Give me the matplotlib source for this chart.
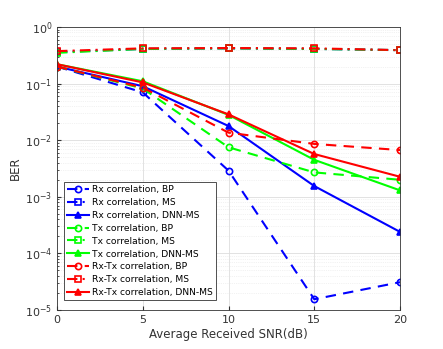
import numpy as np
import matplotlib.pyplot as plt

# SNR points (dB)
snr = [0, 5, 10, 15, 20]

# BER values
rx_bp = [0.20, 0.070, 0.0029, 1.55e-5, 3.1e-5]
rx_ms = [0.36, 0.41, 0.42, 0.41, 0.39]
rx_dnn = [0.20, 0.090, 0.0178, 0.00155, 2.4e-4]
tx_bp = [0.20, 0.082, 0.0075, 0.0027, 0.0020]
tx_ms = [0.35, 0.41, 0.42, 0.41, 0.39]
tx_dnn = [0.22, 0.110, 0.028, 0.0045, 0.0013]
rxtx_bp = [0.20, 0.085, 0.0136, 0.0086, 0.0067]
rxtx_ms = [0.375, 0.42, 0.425, 0.42, 0.39]
rxtx_dnn = [0.22, 0.105, 0.0286, 0.0057, 0.00226]

labels = ['Rx correlation, BP', 'Rx correlation, MS', 'Rx correlation, DNN-MS',
          'Tx correlation, BP', 'Tx correlation, MS', 'Tx correlation, DNN-MS',
          'Rx-Tx correlation, BP', 'Rx-Tx correlation, MS', 'Rx-Tx correlation, DNN-MS']
series = [rx_bp, rx_ms, rx_dnn, tx_bp, tx_ms, tx_dnn, rxtx_bp, rxtx_ms, rxtx_dnn]
colors = ['#0000ff'] * 3 + ['#00ff00'] * 3 + ['#ff0000'] * 3
# matlab-like dash patterns
styles = [((0, (5, 3.5)), 'o'), ((0, (5, 2.5, 1, 2.5)), 's'), ('-', '^')] * 3

fig = plt.figure(figsize=(4.43, 3.49), dpi=100)
ax = fig.add_axes([0.1287, 0.1117, 0.7743, 0.8109])

for y, lab, c, (ls, mk) in zip(series, labels, colors, styles):
    filled = mk == '^'
    ax.semilogy(snr, y, linestyle=ls, marker=mk, color=c, linewidth=1.5,
                markersize=4.5 if mk != 's' else 4,
                markerfacecolor=c if filled else 'none',
                markeredgewidth=1.2, label=lab)

ax.set_xlim(0, 20)
ax.set_ylim(1e-5, 1)
ax.set_xticks([0, 5, 10, 15, 20])
ax.set_yticks([1e-5, 1e-4, 1e-3, 1e-2, 1e-1, 1])
ax.grid(True, which='major', color='#dddddd', linewidth=0.6)
ax.grid(True, which='minor', color='#e6e6e6', linewidth=0.5, linestyle=':')
ax.tick_params(labelsize=8, colors='#333333', direction='in', which='both', length=3)
ax.tick_params(which='minor', length=1.5)
for s in ax.spines.values():
    s.set_color('#333333')
    s.set_linewidth(0.6)

ax.set_xlabel('Average Received SNR(dB)', fontsize=8.5, color='#333333', labelpad=2)
ax.set_ylabel('BER', fontsize=8.5, color='#333333', labelpad=2)

leg = ax.legend(loc='lower left', bbox_to_anchor=(0.015, 0.028), fontsize=6.6,
                handlelength=2.4, handletextpad=0.3, labelspacing=0.42,
                borderpad=0.35, borderaxespad=0.2, fancybox=False, framealpha=1,
                edgecolor='#333333')
leg.get_frame().set_linewidth(0.6)

fig.savefig('out.png', dpi=100)
